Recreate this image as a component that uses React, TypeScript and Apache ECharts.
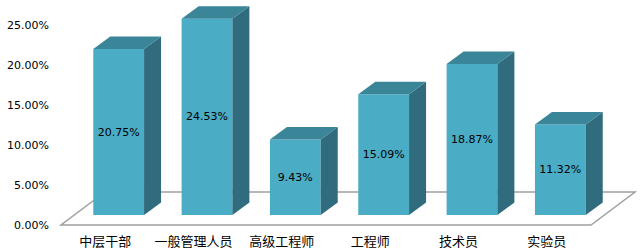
import React, { useEffect, useRef } from "react";
import * as echarts from "echarts";

const categories = ["中层干部", "一般管理人员", "高级工程师", "工程师", "技术员", "实验员"];
const values = [20.75, 24.53, 9.43, 15.09, 18.87, 11.32];
const yTicks = { min: 0, max: 25, interval: 5 };

const FRONT = "#4BACC6";
const SIDE = "#306C7D";
const TOP = "#3B8599";

export default function App() {
  const ref = useRef<HTMLDivElement>(null);
  useEffect(() => {
    const chart = echarts.init(ref.current!, null, { renderer: "svg" });
    const floorDx = 44;
    const floorDy = 33;
    const barOffX = 13.5;
    const barOffY = 10;
    const depthX = 17;
    const depthY = 12.5;
    chart.setOption({
      animation: false,
      grid: { left: 61, right: 50, top: 25, bottom: 27 },
      xAxis: {
        type: "category",
        data: categories,
        axisLine: { show: false },
        axisTick: { show: false },
        axisLabel: {
          interval: 0,
          margin: 9,
          fontSize: 13,
          color: "#000",
          fontFamily: "Noto Sans CJK SC",
        },
      },
      yAxis: {
        type: "value",
        min: yTicks.min,
        max: yTicks.max,
        interval: yTicks.interval,
        axisLine: { show: false },
        axisTick: { show: false },
        splitLine: { show: false },
        axisLabel: {
          margin: 12,
          fontSize: 11,
          color: "#000",
          fontFamily: "DejaVu Sans",
          formatter: (v: number) => v.toFixed(2) + "%",
        },
      },
      series: [
        {
          type: "custom",
          silent: true,
          data: [0],
          renderItem: (params: any, api: any) => {
            const cs = params.coordSys;
            const x0 = cs.x;
            const x1 = cs.x + cs.width;
            const yb = cs.y + cs.height;
            return {
              type: "polygon",
              shape: {
                points: [
                  [x0, yb],
                  [x1, yb],
                  [x1 + floorDx, yb - floorDy],
                  [x0 + floorDx, yb - floorDy],
                ],
              },
              style: { fill: "#ffffff", stroke: "#A0A0A0", lineWidth: 1.5 },
            };
          },
        },
        {
          type: "custom",
          data: values.map((v, i) => [i, v]),
          encode: { x: 0, y: 1 },
          renderItem: (params: any, api: any) => {
            const i = api.value(0);
            const v = api.value(1);
            const c0 = api.coord([i, 0]);
            const c1 = api.coord([i, v]);
            const band = api.size([1, 0])[0];
            const w = band * 0.575;
            const cx = c0[0] + barOffX;
            const l = cx - w / 2;
            const r = cx + w / 2;
            const b = c0[1] - barOffY;
            const t = c1[1] - barOffY;
            return {
              type: "group",
              children: [
                {
                  type: "polygon",
                  shape: { points: [[l, b], [r, b], [r, t], [l, t]] },
                  style: { fill: FRONT },
                },
                {
                  type: "polygon",
                  shape: {
                    points: [
                      [r, b],
                      [r + depthX, b - depthY],
                      [r + depthX, t - depthY],
                      [r, t],
                    ],
                  },
                  style: { fill: SIDE },
                },
                {
                  type: "polygon",
                  shape: {
                    points: [
                      [l, t],
                      [l + depthX, t - depthY],
                      [r + depthX, t - depthY],
                      [r, t],
                    ],
                  },
                  style: { fill: TOP },
                },
                {
                  type: "text",
                  x: cx,
                  y: (t + b) / 2,
                  style: {
                    text: v.toFixed(2) + "%",
                    fill: "#000",
                    fontSize: 11,
                    fontFamily: "DejaVu Sans",
                    align: "center",
                    verticalAlign: "middle",
                  },
                },
              ],
            };
          },
        },
      ],
    });
    return () => chart.dispose();
  }, []);
  return <div ref={ref} style={{ width: 641, height: 252, position: "absolute", left: 0, top: 0 }} />;
}
